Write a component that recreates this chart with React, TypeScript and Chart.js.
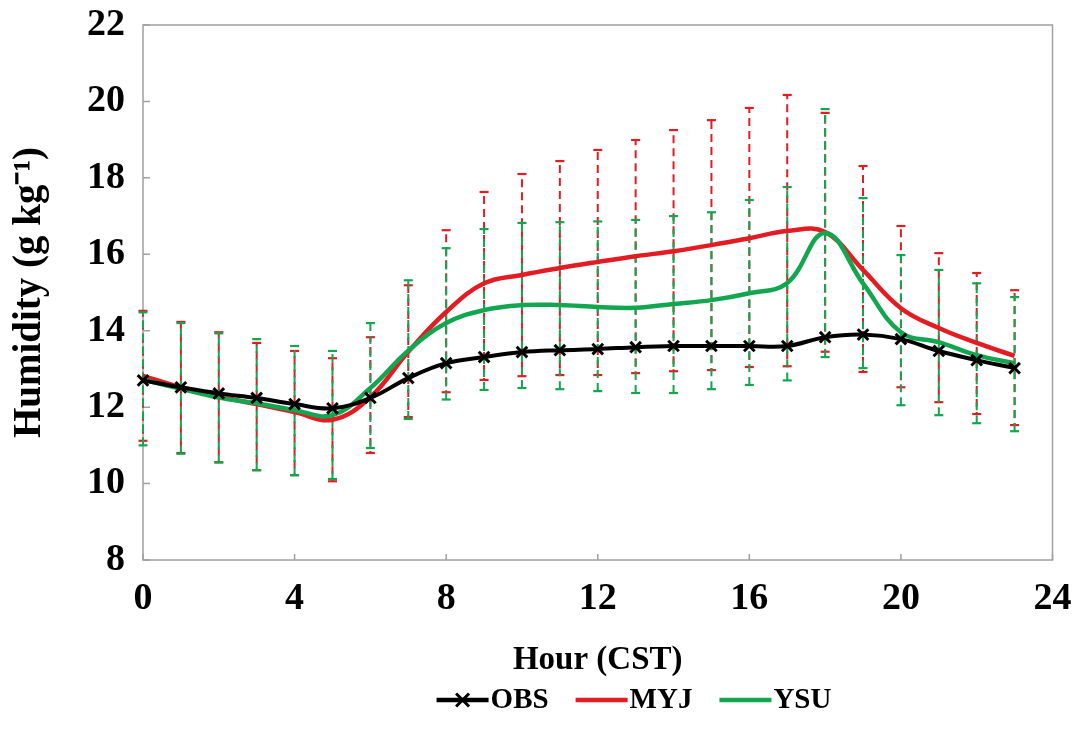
import React, { useEffect, useRef } from 'react';
import { Chart, registerables } from 'chart.js';

Chart.register(...registerables);

// ---------- data ----------
const hours = [0, 1, 2, 3, 4, 5, 6, 7, 8, 9, 10, 11, 12, 13, 14, 15, 16, 17, 18, 19, 20, 21, 22, 23];
const obs = [12.7, 12.52, 12.36, 12.24, 12.08, 11.97, 12.24, 12.76, 13.15, 13.31, 13.44, 13.49, 13.52, 13.57, 13.6, 13.6, 13.6, 13.6, 13.83, 13.9, 13.78, 13.47, 13.23, 13.02];
const myj = [12.82, 12.52, 12.28, 12.08, 11.87, 11.67, 12.26, 13.45, 14.49, 15.24, 15.46, 15.64, 15.8, 15.95, 16.08, 16.24, 16.42, 16.61, 16.58, 15.59, 14.59, 14.07, 13.68, 13.34];
const ysu = [12.72, 12.48, 12.25, 12.1, 11.92, 11.79, 12.5, 13.48, 14.2, 14.54, 14.67, 14.67, 14.62, 14.6, 14.7, 14.8, 14.98, 15.25, 16.56, 15.24, 13.96, 13.7, 13.36, 13.15];
const myjHigh = [14.52, 14.23, 13.96, 13.68, 13.47, 13.28, 13.83, 15.19, 16.63, 17.63, 18.1, 18.44, 18.73, 18.99, 19.25, 19.51, 19.83, 20.17, 19.7, 18.31, 16.74, 16.03, 15.51, 15.06];
const myjLow = [11.12, 10.8, 10.56, 10.35, 10.22, 10.06, 10.8, 11.74, 12.39, 12.71, 12.81, 12.84, 12.84, 12.89, 12.94, 12.97, 13.05, 13.07, 13.45, 12.92, 12.52, 12.13, 11.82, 11.53];
const ysuHigh = [14.48, 14.2, 13.93, 13.78, 13.6, 13.47, 14.2, 15.32, 16.16, 16.66, 16.82, 16.84, 16.86, 16.9, 17.0, 17.1, 17.42, 17.76, 19.8, 17.47, 15.98, 15.59, 15.24, 14.88];
const ysuLow = [11.0, 10.78, 10.55, 10.35, 10.22, 10.12, 10.93, 11.69, 12.2, 12.45, 12.5, 12.47, 12.42, 12.37, 12.37, 12.47, 12.58, 12.7, 13.31, 13.02, 12.05, 11.79, 11.58, 11.37];
const xTicks = [0, 4, 8, 12, 16, 20, 24];
const yTicks = [8, 10, 12, 14, 16, 18, 20, 22];
const seriesNames = ['OBS', 'MYJ', 'YSU'];
const xTitle = 'Hour (CST)';
const yTitle = 'Humidity (g kg\u207B\u00B9)';

// ---------- styles ----------
const FONT = '"Liberation Serif", "Times New Roman", Times, serif';
const BLACK = '#000000';
const RED = '#e31c23';
const GREEN = '#13a651';
const FRAME = '#a0a0a0';

const pts = (vals: number[]) => hours.map((h, i) => ({ x: h, y: vals[i] }));
const errPts = (low: number[], high: number[]) =>
  hours.flatMap((h, i) => [
    { x: h, y: low[i] },
    { x: h, y: high[i] },
    { x: h, y: null as any },
  ]);

const framePlugin = {
  id: 'frame',
  beforeDatasetsDraw(chart: any) {
    const { ctx, chartArea: a, scales } = chart;
    ctx.save();
    ctx.strokeStyle = FRAME;
    ctx.lineWidth = 1.5;
    ctx.strokeRect(a.left, a.top, a.right - a.left, a.bottom - a.top);
    ctx.beginPath();
    yTicks.forEach((v) => {
      const y = scales.y.getPixelForValue(v);
      ctx.moveTo(a.left, y);
      ctx.lineTo(a.left + 7, y);
    });
    xTicks.forEach((v) => {
      const x = scales.x.getPixelForValue(v);
      ctx.moveTo(x, a.bottom);
      ctx.lineTo(x, a.bottom - 6);
    });
    ctx.stroke();
    ctx.restore();
  },
};

const legendPlugin = {
  id: 'customLegend',
  afterDraw(chart: any) {
    const { ctx } = chart;
    const items = seriesNames
      .map((n) => chart.data.datasets.find((d: any) => d.inLegend && d.label === n))
      .filter(Boolean);
    ctx.save();
    ctx.font = `bold 29px ${FONT}`;
    const lineLen = 52;
    const textGap = 2;
    const itemGap = 27;
    const widths = items.map((d: any) => ctx.measureText(d.label).width);
    const total = widths.reduce((s: number, w: number) => s + lineLen + textGap + w, 0) + itemGap * (items.length - 1);
    let x = 634 - total / 2;
    const y = 700;
    items.forEach((d: any, i: number) => {
      ctx.strokeStyle = d.borderColor;
      ctx.lineWidth = 4.5;
      ctx.beginPath();
      ctx.moveTo(x, y);
      ctx.lineTo(x + lineLen, y);
      ctx.stroke();
      if (d.pointRadius > 0) {
        const cx = x + lineLen / 2;
        const r = 6.5;
        ctx.lineWidth = 3;
        ctx.beginPath();
        ctx.moveTo(cx - r, y - r);
        ctx.lineTo(cx + r, y + r);
        ctx.moveTo(cx - r, y + r);
        ctx.lineTo(cx + r, y - r);
        ctx.stroke();
      }
      ctx.fillStyle = BLACK;
      ctx.textBaseline = 'middle';
      ctx.textAlign = 'left';
      ctx.fillText(d.label, x + lineLen + textGap, y + 1);
      x += lineLen + textGap + widths[i] + itemGap;
    });
    ctx.restore();
  },
};

export default function App() {
  const ref = useRef<HTMLCanvasElement>(null);

  useEffect(() => {
    if (!ref.current) return;
    const errCommon = {
      showLine: true,
      tension: 0,
      borderWidth: 2,
      borderDash: [8, 5],
      pointStyle: 'line',
      pointRadius: 4.5,
      pointBorderWidth: 2.2,
      pointHoverRadius: 4.5,
      spanGaps: false,
      clip: false as any,
      inLegend: false,
    };
    const chart = new Chart(ref.current, {
      type: 'line',
      data: {
        datasets: [
          {
            label: seriesNames[0],
            data: pts(obs),
            borderColor: BLACK,
            backgroundColor: BLACK,
            borderWidth: 4,
            tension: 0.4,
            pointStyle: 'crossRot',
            pointRadius: 7.5,
            pointBorderWidth: 3,
            pointBorderColor: BLACK,
            clip: false as any,
            inLegend: true,
          } as any,
          {
            label: seriesNames[2],
            data: pts(ysu),
            borderColor: GREEN,
            backgroundColor: GREEN,
            borderWidth: 4.5,
            tension: 0.4,
            pointRadius: 0,
            clip: false as any,
            inLegend: true,
          },
          {
            label: seriesNames[1],
            data: pts(myj),
            borderColor: RED,
            backgroundColor: RED,
            borderWidth: 4.5,
            tension: 0.4,
            pointRadius: 0,
            clip: false as any,
            inLegend: true,
          },
          {
            ...errCommon,
            label: seriesNames[2] + ' range',
            data: errPts(ysuLow, ysuHigh),
            borderColor: GREEN,
            pointBorderColor: GREEN,
            backgroundColor: GREEN,
            borderDashOffset: 0,
          },
          {
            ...errCommon,
            label: seriesNames[1] + ' range',
            data: errPts(myjLow, myjHigh),
            borderColor: RED,
            pointBorderColor: RED,
            backgroundColor: RED,
            borderDashOffset: 6,
          },
        ] as any,
      },
      options: {
        animation: false,
        responsive: false,
        devicePixelRatio: 1,
        layout: { padding: { left: 0, right: 20.5, top: 25, bottom: 0 } },
        plugins: {
          legend: { display: false },
          tooltip: { enabled: false },
        },
        scales: {
          x: {
            type: 'linear',
            min: 0,
            max: 24,
            grid: { display: false, drawTicks: false },
            border: { display: false },
            afterBuildTicks: (s: any) => {
              s.ticks = xTicks.map((v) => ({ value: v }));
            },
            afterFit: (s: any) => {
              s.height = 178;
              s.paddingLeft = 0;
              s.paddingRight = 0;
            },
            ticks: {
              padding: 16,
              color: BLACK,
              maxRotation: 0,
              autoSkip: false,
              font: { family: FONT, weight: 'bold', size: 38 },
            },
            title: {
              display: true,
              text: xTitle,
              color: BLACK,
              font: { family: FONT, weight: 'bold', size: 33 },
              padding: { top: 0, bottom: 58 },
            },
          },
          y: {
            type: 'linear',
            min: 8,
            max: 22,
            grid: { display: false, drawTicks: false },
            border: { display: false },
            afterBuildTicks: (s: any) => {
              s.ticks = yTicks.map((v) => ({ value: v }));
            },
            afterFit: (s: any) => {
              s.width = 143;
              s.paddingTop = 0;
              s.paddingBottom = 0;
            },
            ticks: {
              padding: 18,
              color: BLACK,
              autoSkip: false,
              font: { family: FONT, weight: 'bold', size: 38 },
            },
            title: {
              display: true,
              text: yTitle,
              color: BLACK,
              font: { family: FONT, weight: 'bold', size: 39 },
              padding: { top: 7, bottom: 0 },
            },
          },
        },
      } as any,
      plugins: [framePlugin, legendPlugin],
    });
    return () => chart.destroy();
  }, []);

  return (
    <canvas
      ref={ref}
      width={1073}
      height={738}
      style={{ position: 'fixed', left: 0, top: 0, width: '1073px', height: '738px', background: '#ffffff' }}
    />
  );
}
